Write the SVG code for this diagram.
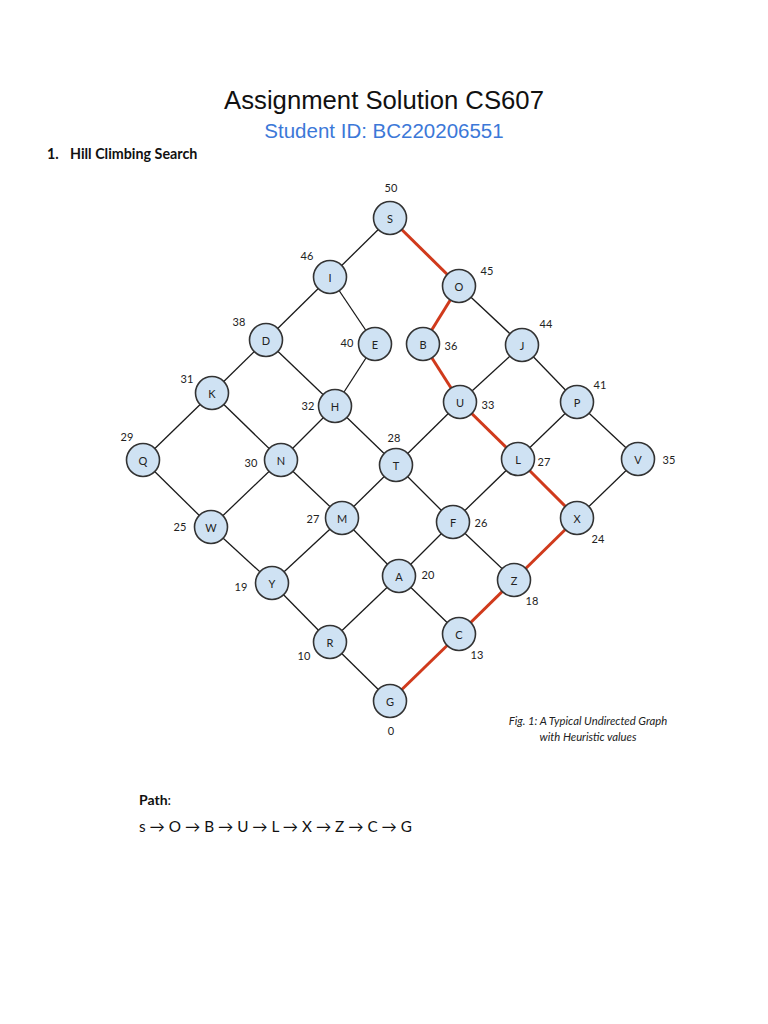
<svg xmlns="http://www.w3.org/2000/svg" width="768" height="1024" viewBox="0 0 768 1024">
<style>
.e{stroke:#1a1a1a;stroke-width:1.3;fill:none}
.r{stroke:#d03a1c;stroke-width:3;fill:none}
.n circle{fill:#cfe2f3;stroke:#333;stroke-width:1.6}
.n text{font-family:Lato,"Open Sans",sans-serif;font-size:11px;fill:#222;text-anchor:middle;dominant-baseline:central}
.h{font-family:Lato,"Open Sans",sans-serif;font-size:11px;fill:#222}
</style>
<rect width="768" height="1024" fill="#fff"/>
<text x="384" y="109" text-anchor="middle" font-family="Liberation Sans,Arial,sans-serif" font-size="25.7" fill="#111">Assignment Solution CS607</text>
<text x="384" y="138" text-anchor="middle" font-family="Liberation Sans,Arial,sans-serif" font-size="20.5" fill="#3c78d8">Student ID: BC220206551</text>
<text x="47" y="159" font-family="Lato,sans-serif" font-size="14.3" font-weight="bold" fill="#111">1.</text>
<text x="70" y="159" font-family="Lato,sans-serif" font-size="14.3" font-weight="bold" fill="#111">Hill Climbing Search</text>
<g id="connectors">
<line class="e" x1="390" y1="218" x2="330" y2="277"/>
<line class="r" x1="390" y1="218" x2="459" y2="286"/>
<line class="e" x1="330" y1="277" x2="266" y2="340"/>
<line class="e" x1="330" y1="277" x2="375" y2="344"/>
<line class="r" x1="459" y1="286" x2="423" y2="344"/>
<line class="e" x1="459" y1="286" x2="522" y2="345"/>
<line class="e" x1="266" y1="340" x2="212" y2="393"/>
<line class="e" x1="266" y1="340" x2="335" y2="406"/>
<line class="e" x1="375" y1="344" x2="335" y2="406"/>
<line class="r" x1="423" y1="344" x2="460" y2="402"/>
<line class="e" x1="522" y1="345" x2="460" y2="402"/>
<line class="e" x1="522" y1="345" x2="577" y2="402"/>
<line class="e" x1="212" y1="393" x2="143" y2="460"/>
<line class="e" x1="212" y1="393" x2="281" y2="460"/>
<line class="e" x1="335" y1="406" x2="281" y2="460"/>
<line class="e" x1="335" y1="406" x2="396" y2="465"/>
<line class="e" x1="460" y1="402" x2="396" y2="465"/>
<line class="r" x1="460" y1="402" x2="518" y2="459"/>
<line class="e" x1="577" y1="402" x2="518" y2="459"/>
<line class="e" x1="577" y1="402" x2="638" y2="459"/>
<line class="e" x1="143" y1="460" x2="211" y2="527"/>
<line class="e" x1="281" y1="460" x2="211" y2="527"/>
<line class="e" x1="281" y1="460" x2="342" y2="518"/>
<line class="e" x1="396" y1="465" x2="342" y2="518"/>
<line class="e" x1="396" y1="465" x2="453" y2="522"/>
<line class="e" x1="518" y1="459" x2="453" y2="522"/>
<line class="r" x1="518" y1="459" x2="577" y2="518"/>
<line class="e" x1="638" y1="459" x2="577" y2="518"/>
<line class="e" x1="211" y1="527" x2="272" y2="583"/>
<line class="e" x1="342" y1="518" x2="272" y2="583"/>
<line class="e" x1="342" y1="518" x2="399" y2="576"/>
<line class="e" x1="453" y1="522" x2="399" y2="576"/>
<line class="e" x1="453" y1="522" x2="514" y2="580"/>
<line class="r" x1="577" y1="518" x2="514" y2="580"/>
<line class="e" x1="272" y1="583" x2="330" y2="642"/>
<line class="e" x1="399" y1="576" x2="330" y2="642"/>
<line class="e" x1="399" y1="576" x2="459" y2="634"/>
<line class="r" x1="514" y1="580" x2="459" y2="634"/>
<line class="e" x1="330" y1="642" x2="390" y2="701"/>
<line class="r" x1="459" y1="634" x2="390" y2="701"/>
</g>
<g id="S" class="n"><circle cx="390" cy="218" r="16.5"/><text x="390" y="218">S</text></g>
<g id="I" class="n"><circle cx="330" cy="277" r="16.5"/><text x="330" y="277">I</text></g>
<g id="O" class="n"><circle cx="459" cy="286" r="16.5"/><text x="459" y="286">O</text></g>
<g id="D" class="n"><circle cx="266" cy="340" r="16.5"/><text x="266" y="340">D</text></g>
<g id="E" class="n"><circle cx="375" cy="344" r="16.5"/><text x="375" y="344">E</text></g>
<g id="B" class="n"><circle cx="423" cy="344" r="16.5"/><text x="423" y="344">B</text></g>
<g id="J" class="n"><circle cx="522" cy="345" r="16.5"/><text x="522" y="345">J</text></g>
<g id="K" class="n"><circle cx="212" cy="393" r="16.5"/><text x="212" y="393">K</text></g>
<g id="H" class="n"><circle cx="335" cy="406" r="16.5"/><text x="335" y="406">H</text></g>
<g id="U" class="n"><circle cx="460" cy="402" r="16.5"/><text x="460" y="402">U</text></g>
<g id="P" class="n"><circle cx="577" cy="402" r="16.5"/><text x="577" y="402">P</text></g>
<g id="Q" class="n"><circle cx="143" cy="460" r="16.5"/><text x="143" y="460">Q</text></g>
<g id="N" class="n"><circle cx="281" cy="460" r="16.5"/><text x="281" y="460">N</text></g>
<g id="T" class="n"><circle cx="396" cy="465" r="16.5"/><text x="396" y="465">T</text></g>
<g id="L" class="n"><circle cx="518" cy="459" r="16.5"/><text x="518" y="459">L</text></g>
<g id="V" class="n"><circle cx="638" cy="459" r="16.5"/><text x="638" y="459">V</text></g>
<g id="W" class="n"><circle cx="211" cy="527" r="16.5"/><text x="211" y="527">W</text></g>
<g id="M" class="n"><circle cx="342" cy="518" r="16.5"/><text x="342" y="518">M</text></g>
<g id="F" class="n"><circle cx="453" cy="522" r="16.5"/><text x="453" y="522">F</text></g>
<g id="X" class="n"><circle cx="577" cy="518" r="16.5"/><text x="577" y="518">X</text></g>
<g id="Y" class="n"><circle cx="272" cy="583" r="16.5"/><text x="272" y="583">Y</text></g>
<g id="A" class="n"><circle cx="399" cy="576" r="16.5"/><text x="399" y="576">A</text></g>
<g id="Z" class="n"><circle cx="514" cy="580" r="16.5"/><text x="514" y="580">Z</text></g>
<g id="R" class="n"><circle cx="330" cy="642" r="16.5"/><text x="330" y="642">R</text></g>
<g id="C" class="n"><circle cx="459" cy="634" r="16.5"/><text x="459" y="634">C</text></g>
<g id="G" class="n"><circle cx="390" cy="701" r="16.5"/><text x="390" y="701">G</text></g>
<g id="heuristics" class="h" text-anchor="middle">
<text x="391" y="192">50</text>
<text x="307" y="260">46</text>
<text x="487" y="275">45</text>
<text x="239" y="326">38</text>
<text x="347" y="347">40</text>
<text x="451" y="350">36</text>
<text x="546" y="328">44</text>
<text x="187" y="383">31</text>
<text x="308" y="410">32</text>
<text x="488" y="409">33</text>
<text x="600" y="389">41</text>
<text x="127" y="441">29</text>
<text x="251" y="467">30</text>
<text x="394" y="442">28</text>
<text x="544" y="466">27</text>
<text x="669" y="464">35</text>
<text x="180" y="531">25</text>
<text x="313" y="523">27</text>
<text x="481" y="527">26</text>
<text x="598" y="543">24</text>
<text x="241" y="591">19</text>
<text x="428" y="579">20</text>
<text x="532" y="605">18</text>
<text x="304" y="660">10</text>
<text x="477" y="659">13</text>
<text x="391" y="735">0</text>
</g>
<g font-family="Lato,'Open Sans',sans-serif" font-size="11.3" font-style="italic" fill="#222" text-anchor="middle">
<text x="588" y="725">Fig. 1: A Typical Undirected Graph</text>
<text x="588" y="741">with Heuristic values</text>
</g>
<text x="139" y="805" font-family="Lato,sans-serif" font-size="14" font-weight="bold" fill="#111">Path<tspan font-weight="normal">:</tspan></text>
<text x="139" y="832" font-family="Lato,sans-serif" font-size="15.3" fill="#111">s → O → B → U → L → X → Z → C → G</text>
</svg>
